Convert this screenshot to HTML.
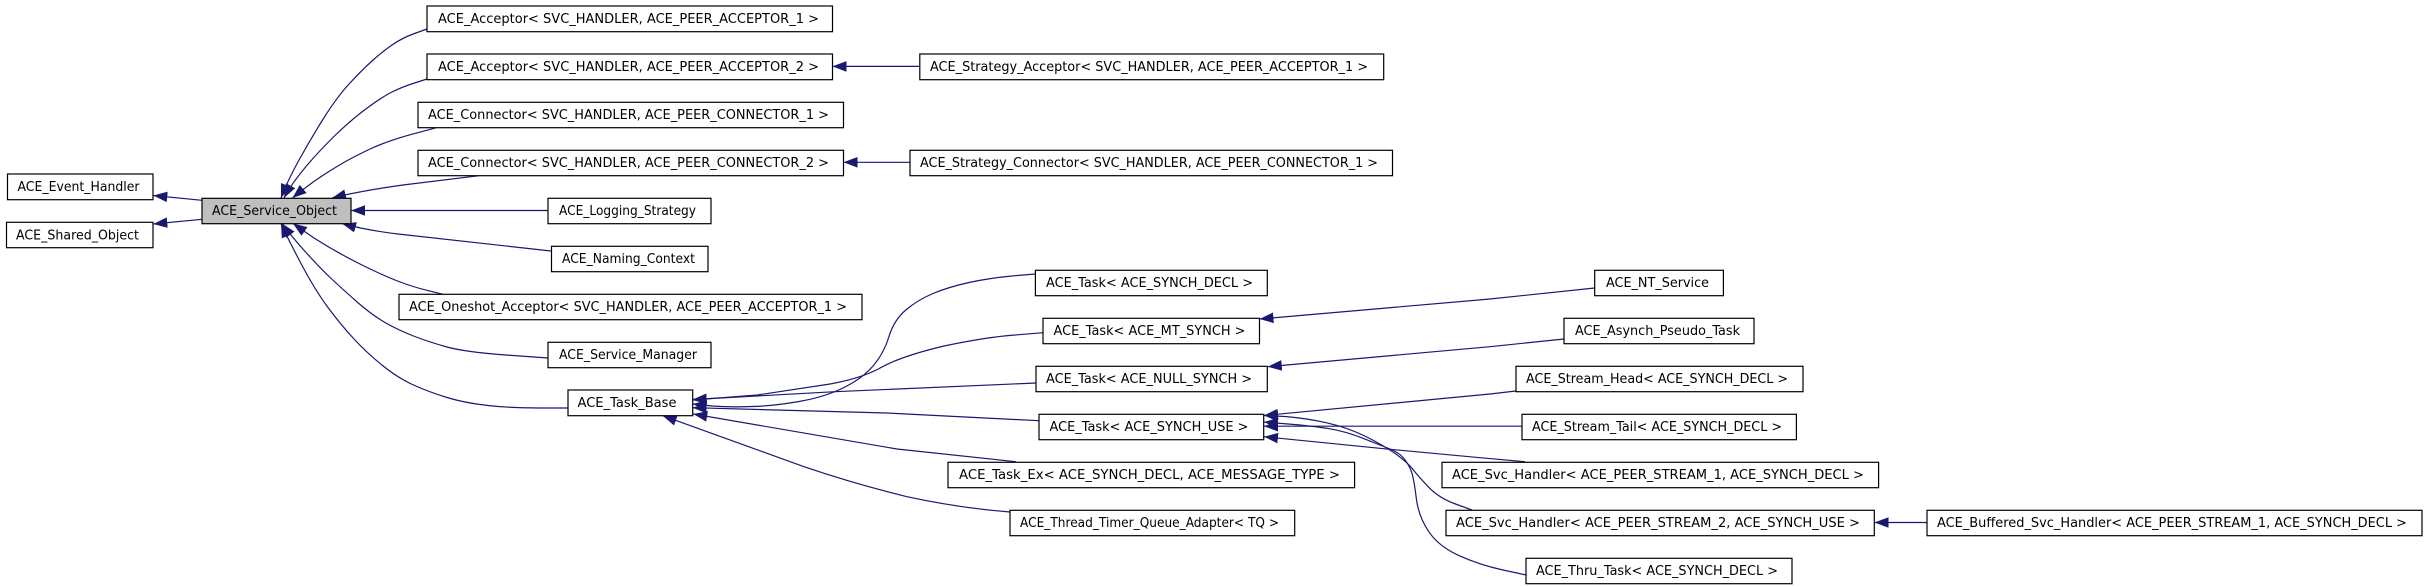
<!DOCTYPE html>
<html><head><meta charset="utf-8"><title>ACE_Service_Object inheritance diagram</title>
<style>
html,body{margin:0;padding:0;background:#fff;width:2427px;height:587px;overflow:hidden}
svg{display:block}
rect{fill:#fff;stroke:#000;stroke-width:1.2}
text{font-family:"DejaVu Sans","Liberation Sans",sans-serif;font-size:13.5px;fill:#000}
path{fill:none;stroke:#191970;stroke-width:1.2;stroke-linejoin:round;marker-start:url(#a)}
</style></head><body>
<svg width="2427" height="587" viewBox="0 0 2427 587" xmlns="http://www.w3.org/2000/svg">
<defs><marker id="a" markerUnits="userSpaceOnUse" markerWidth="15" markerHeight="12" viewBox="0 0 15 12" refX="14" refY="6" orient="auto-start-reverse"><polygon points="0,0.7 14,6 0,11.3" fill="#191970"/></marker></defs>

<path d="M153.3,195.5L202,200.3"/>
<path d="M153.3,224L202,219.3"/>
<path d="M281,198Q287,182 298.5,161Q310,140 323.5,118.5Q337,97 349.5,83.5Q362,70 372,61Q382,52 392,45Q402,38 414.5,33.5L427,29"/>
<path d="M284,198Q292,183 306,166.5Q320,150 335.5,135Q351,120 366.5,108.5Q382,97 392,92Q402,87 414.5,83L427,79"/>
<path d="M292.5,198Q302,190 312.5,182.5Q323,175 337,166.5Q351,158 369,149.5Q387,141 411.7,134.3L436.5,127.7"/>
<path d="M332,198Q360,191 403,185L479,175.7"/>
<path d="M351,210.5L548,210.5"/>
<path d="M342,223.5Q365,230 398,234L551,251"/>
<path d="M293,223.5L314,238Q336,252 359,263.5Q382,275 397.5,281Q413,287 428,290.6L443,294.3"/>
<path d="M282,223.5Q292,237 306,252.5Q320,268 331.7,279Q343.5,290 357.7,302.5Q372,315 385,322.5Q398,330 413.5,336Q429,342 447,347Q465,352 506,355L548,358"/>
<path d="M281,223.5Q287,237 301,263.5Q315,290 328,307.5Q341,325 354,339Q367,353 382.5,365.5Q398,378 413.5,385Q429,392 447,397.5Q465,403 488,405.5Q511,408 539,408L568,408"/>
<path d="M832.5,66.4L919.8,66.4"/>
<path d="M843.5,162.3L910,162.3"/>
<path d="M692.7,404L712,406Q732,407.5 752,406.5Q773,406 799,401.5Q825,397 844,387.5Q863,378 873.5,365.5Q884,353 889,336.5Q894,320 905.8,310Q917.6,300 933,293.5Q948.6,287 969,282.5Q990,278 1012,276L1035.4,274"/>
<path d="M692.7,400L757.5,395L830,384Q863,378 882,367Q902,356 944,346Q987,337 1015,335L1043,332.7"/>
<path d="M692.7,399.5L835,391.7L1036,383"/>
<path d="M692.7,407.7L886.6,413L1039,420.7"/>
<path d="M693.3,414L897,449L1015.7,461.7"/>
<path d="M662.7,415.7L804,466.7Q855,484 907,496.7Q959,508 1010,512"/>
<path d="M1259.5,319L1490,299L1594.7,288"/>
<path d="M1267.8,366.7L1490,346.7L1564,339"/>
<path d="M1264,415.5L1490,394L1516,391"/>
<path d="M1264,426.2L1522,426.2"/>
<path d="M1264,436.7L1390,449.3L1480,457.7L1525,461.7"/>
<path d="M1264,415.5L1285,416.5Q1306.7,418.3 1326.7,422.8Q1346.7,427.3 1364.8,436Q1383,445 1394.8,453.3Q1406.7,461.7 1412.6,469Q1418.6,476.7 1428.8,487.3Q1439,498 1455.5,504L1472,510"/>
<path d="M1264,422L1288,424Q1313,426 1330,428.8Q1346.7,431.7 1363,438.3Q1380,445 1390,449Q1400,453 1405,459.8Q1410,466.7 1412,473.3Q1414,480 1416.3,498.3Q1418.6,516.7 1428.8,531.7Q1439,546.7 1459.5,555.8Q1480,565 1503,570L1526,575"/>
<path d="M1874.5,522.5L1927,522.5"/>

<rect x="7.5" y="174" width="145.5" height="25.7"/><text x="17.5" y="191" textLength="122" lengthAdjust="spacingAndGlyphs">ACE_Event_Handler</text>
<rect x="6.5" y="222.3" width="146.5" height="25.4"/><text x="16" y="239.3" textLength="123" lengthAdjust="spacingAndGlyphs">ACE_Shared_Object</text>
<rect x="202" y="198.3" width="149" height="25.4" style="fill:#bfbfbf"/><text x="212" y="215.2" textLength="125" lengthAdjust="spacingAndGlyphs">ACE_Service_Object</text>
<rect x="427" y="6" width="405.5" height="25.7"/><text x="438" y="23" textLength="381" lengthAdjust="spacingAndGlyphs">ACE_Acceptor&lt; SVC_HANDLER, ACE_PEER_ACCEPTOR_1 &gt;</text>
<rect x="427" y="54" width="405.5" height="25.7"/><text x="438" y="71" textLength="381" lengthAdjust="spacingAndGlyphs">ACE_Acceptor&lt; SVC_HANDLER, ACE_PEER_ACCEPTOR_2 &gt;</text>
<rect x="418" y="102.3" width="425.5" height="25.4"/><text x="428" y="119.2" textLength="401" lengthAdjust="spacingAndGlyphs">ACE_Connector&lt; SVC_HANDLER, ACE_PEER_CONNECTOR_1 &gt;</text>
<rect x="418" y="150.3" width="425.5" height="25.4"/><text x="428" y="167.2" textLength="401" lengthAdjust="spacingAndGlyphs">ACE_Connector&lt; SVC_HANDLER, ACE_PEER_CONNECTOR_2 &gt;</text>
<rect x="548" y="198.3" width="163" height="25.4"/><text x="559" y="215.2" textLength="137" lengthAdjust="spacingAndGlyphs">ACE_Logging_Strategy</text>
<rect x="551.5" y="246.3" width="156.5" height="25.4"/><text x="562" y="263.2" textLength="133" lengthAdjust="spacingAndGlyphs">ACE_Naming_Context</text>
<rect x="399" y="294.3" width="463" height="25.4"/><text x="409" y="311.2" textLength="438" lengthAdjust="spacingAndGlyphs">ACE_Oneshot_Acceptor&lt; SVC_HANDLER, ACE_PEER_ACCEPTOR_1 &gt;</text>
<rect x="548" y="342.3" width="163" height="25.4"/><text x="559" y="359.2" textLength="138" lengthAdjust="spacingAndGlyphs">ACE_Service_Manager</text>
<rect x="568" y="390" width="124.7" height="25.7"/><text x="577.5" y="407" textLength="99" lengthAdjust="spacingAndGlyphs">ACE_Task_Base</text>
<rect x="919.8" y="54" width="463.9" height="25.7"/><text x="930" y="71" textLength="438" lengthAdjust="spacingAndGlyphs">ACE_Strategy_Acceptor&lt; SVC_HANDLER, ACE_PEER_ACCEPTOR_1 &gt;</text>
<rect x="910" y="150.3" width="482.5" height="25.4"/><text x="920" y="167.2" textLength="458" lengthAdjust="spacingAndGlyphs">ACE_Strategy_Connector&lt; SVC_HANDLER, ACE_PEER_CONNECTOR_1 &gt;</text>
<rect x="1035.4" y="270.3" width="231.9" height="25.4"/><text x="1046" y="287.2" textLength="207" lengthAdjust="spacingAndGlyphs">ACE_Task&lt; ACE_SYNCH_DECL &gt;</text>
<rect x="1043" y="318.3" width="216.5" height="25.4"/><text x="1053.5" y="335.2" textLength="192" lengthAdjust="spacingAndGlyphs">ACE_Task&lt; ACE_MT_SYNCH &gt;</text>
<rect x="1036" y="366.3" width="231.3" height="25.4"/><text x="1046" y="383.2" textLength="206" lengthAdjust="spacingAndGlyphs">ACE_Task&lt; ACE_NULL_SYNCH &gt;</text>
<rect x="1039" y="414.3" width="224.7" height="25.4"/><text x="1049.5" y="431.2" textLength="199" lengthAdjust="spacingAndGlyphs">ACE_Task&lt; ACE_SYNCH_USE &gt;</text>
<rect x="948" y="462.3" width="406.6" height="25.4"/><text x="959" y="479.2" textLength="381" lengthAdjust="spacingAndGlyphs">ACE_Task_Ex&lt; ACE_SYNCH_DECL, ACE_MESSAGE_TYPE &gt;</text>
<rect x="1010" y="510.3" width="284.7" height="25.4"/><text x="1020" y="527.2" textLength="259" lengthAdjust="spacingAndGlyphs">ACE_Thread_Timer_Queue_Adapter&lt; TQ &gt;</text>
<rect x="1594.7" y="270.3" width="128.7" height="25.4"/><text x="1606" y="287.2" textLength="103" lengthAdjust="spacingAndGlyphs">ACE_NT_Service</text>
<rect x="1564" y="318.3" width="190" height="25.4"/><text x="1575" y="335.2" textLength="165" lengthAdjust="spacingAndGlyphs">ACE_Asynch_Pseudo_Task</text>
<rect x="1516" y="366.3" width="287" height="25.4"/><text x="1526" y="383.2" textLength="262" lengthAdjust="spacingAndGlyphs">ACE_Stream_Head&lt; ACE_SYNCH_DECL &gt;</text>
<rect x="1522" y="414.3" width="274.4" height="25.4"/><text x="1532" y="431.2" textLength="250" lengthAdjust="spacingAndGlyphs">ACE_Stream_Tail&lt; ACE_SYNCH_DECL &gt;</text>
<rect x="1442" y="462.3" width="436.6" height="25.4"/><text x="1452" y="479.2" textLength="412" lengthAdjust="spacingAndGlyphs">ACE_Svc_Handler&lt; ACE_PEER_STREAM_1, ACE_SYNCH_DECL &gt;</text>
<rect x="1446" y="510.3" width="428.3" height="25.4"/><text x="1456" y="527.2" textLength="404" lengthAdjust="spacingAndGlyphs">ACE_Svc_Handler&lt; ACE_PEER_STREAM_2, ACE_SYNCH_USE &gt;</text>
<rect x="1927" y="510.3" width="495" height="25.4"/><text x="1937" y="527.2" textLength="470" lengthAdjust="spacingAndGlyphs">ACE_Buffered_Svc_Handler&lt; ACE_PEER_STREAM_1, ACE_SYNCH_DECL &gt;</text>
<rect x="1526" y="558.3" width="266" height="25.4"/><text x="1536" y="575.2" textLength="242" lengthAdjust="spacingAndGlyphs">ACE_Thru_Task&lt; ACE_SYNCH_DECL &gt;</text>
</svg>
</body></html>
